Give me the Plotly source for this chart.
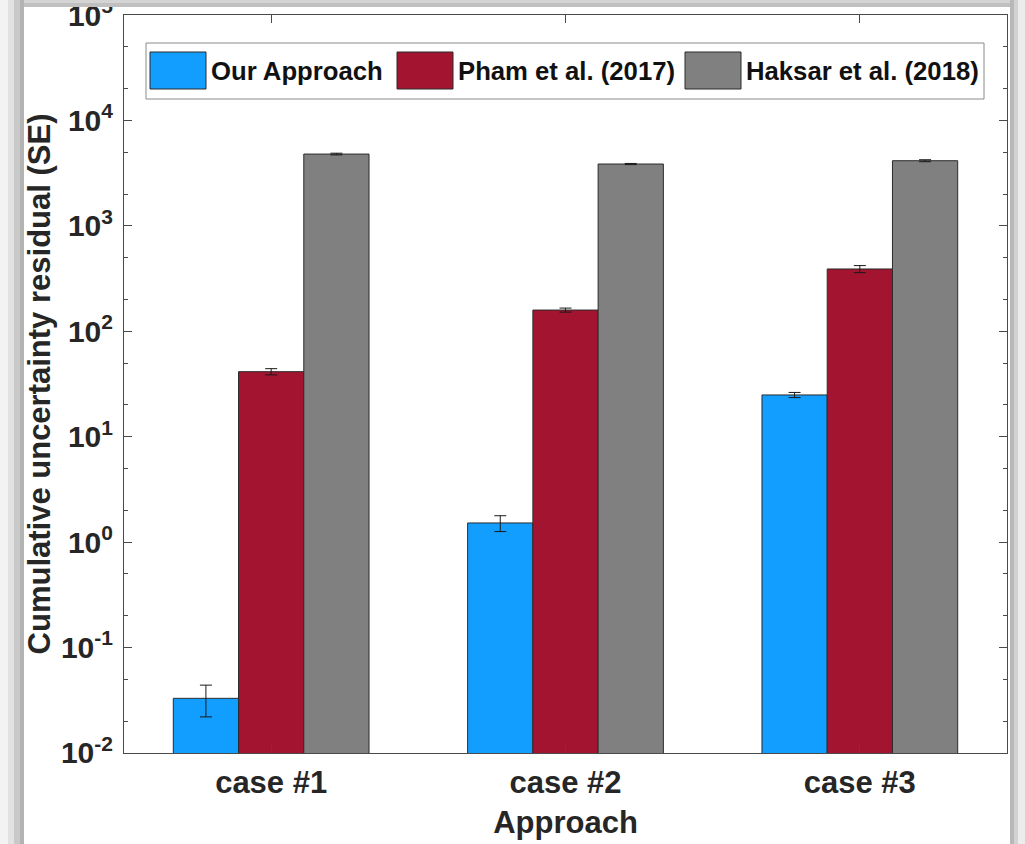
import plotly.graph_objects as go

# ---------------- data ----------------
cases = ["case #1", "case #2", "case #3"]
series_names = ["Our Approach", "Pham et al. (2017)", "Haksar et al. (2018)"]
our_vals = [0.033, 1.52, 24.9]
our_err = [0.011, 0.26, 1.4]
pham_vals = [41.4, 159.0, 390.0]
pham_err = [2.8, 7.0, 30.0]
haksar_vals = [4800.0, 3860.0, 4150.0]
haksar_err = [90.0, 50.0, 90.0]
ytick_vals = [1e-2, 1e-1, 1e0, 1e1, 1e2, 1e3, 1e4, 1e5]
ytick_text = ["10<sup>-2</sup>", "10<sup>-1</sup>", "10<sup>0</sup>", "10<sup>1</sup>",
              "10<sup>2</sup>", "10<sup>3</sup>", "10<sup>4</sup>", "10<sup>5</sup>"]

colors = ["#129EFF", "#A2142F", "#808080"]
FONT = "Liberation Sans, Arial, Helvetica, sans-serif"
TXT = "#262626"
AX = "#4a4a4a"

W, H = 1025, 844
L, R, T, B = 124, 18, 15, 91
PW, PH = W - L - R, H - T - B


def px(x):
    return (x - L) / PW


def py(y):
    return (H - B - y) / PH


fig = go.Figure()
for name, vals, errs, col in zip(series_names, [our_vals, pham_vals, haksar_vals],
                                 [our_err, pham_err, haksar_err], colors):
    fig.add_trace(go.Bar(
        x=cases, y=vals, name=name,
        marker=dict(color=col, line=dict(color="#2b2b2b", width=1)),
        error_y=dict(type="data", array=errs, color="#1a1a1a", thickness=1, width=6),
        showlegend=False,
    ))

fig.update_layout(
    width=W, height=H,
    margin=dict(l=L, r=R, t=T, b=B, autoexpand=False),
    paper_bgcolor="white", plot_bgcolor="white",
    barmode="group", bargap=0.335, bargroupgap=0.0,
    font=dict(family=FONT, color=TXT, size=22, weight="bold"),
)

fig.update_xaxes(
    range=[-0.5, 2.5], automargin=False,
    showline=True, linecolor=AX, linewidth=1, mirror="ticks",
    ticks="inside", ticklen=8, tickcolor=AX, ticklabelstandoff=2,
    tickfont=dict(family=FONT, size=31, color=TXT, weight="bold"),
    showgrid=False,
    title=dict(text="Approach", font=dict(family=FONT, size=31, color=TXT, weight="bold"), standoff=12),
)
fig.update_yaxes(
    type="log", range=[-2.0002, 5.0002], automargin=False,
    tickvals=ytick_vals, ticktext=ytick_text, ticklabeloverflow="allow",
    showline=True, linecolor=AX, linewidth=1, mirror="ticks",
    ticks="inside", ticklen=8, tickcolor=AX, ticklabelstandoff=4,
    minor=dict(ticks="inside", ticklen=4, tickcolor=AX, showgrid=False),
    tickfont=dict(family=FONT, size=30, color=TXT, weight="bold"),
    showgrid=False, zeroline=False,
    title=dict(text="Cumulative uncertainty residual (SE)",
               font=dict(family=FONT, size=31, color=TXT, weight="bold"), standoff=1),
)

shapes = []
# decorative frame around the image
frame = [
    (0, 0, 8, H, "#f3f3f3"), (8, 0, 14, H, "#e2e2e2"), (14, 0, 20, H, "#c9c9c9"), (20, 0, 24, H, "#b3b3b3"),
    (24, 0, 1012, 3, "#d4d4d4"), (24, 3, 1012, 7, "#c0c0c0"),
    (1010, 0, 1014, H, "#b8b8b8"), (1014, 0, 1018, H, "#d2d2d2"), (1018, 0, W, H, "#ececec"),
]
for x0, y0, x1, y1, c in frame:
    shapes.append(dict(type="rect", xref="paper", yref="paper",
                       x0=px(x0), x1=px(x1), y0=py(y1), y1=py(y0),
                       fillcolor=c, line=dict(width=0), layer="above"))

# legend box
shapes.append(dict(type="rect", xref="paper", yref="paper",
                   x0=px(146), x1=px(984), y0=py(99), y1=py(43),
                   fillcolor="white", line=dict(color="#8a8a8a", width=1), layer="above"))
sw_x = [150, 397, 685]
tx_x = [209, 456, 744]
annotations = []
for i, name in enumerate(series_names):
    shapes.append(dict(type="rect", xref="paper", yref="paper",
                       x0=px(sw_x[i]), x1=px(sw_x[i] + 56), y0=py(89), y1=py(52),
                       fillcolor=colors[i], line=dict(color="#2b2b2b", width=1), layer="above"))
    annotations.append(dict(xref="paper", yref="paper", x=px(tx_x[i]), y=py(71),
                            xanchor="left", yanchor="middle", showarrow=False, text=name,
                            font=dict(family=FONT, size=25.7, color="#111111", weight="bold")))

fig.update_layout(shapes=shapes, annotations=annotations)

fig.write_html("out.html", config={"displayModeBar": False},
               post_script="document.body.style.margin='0px';")
